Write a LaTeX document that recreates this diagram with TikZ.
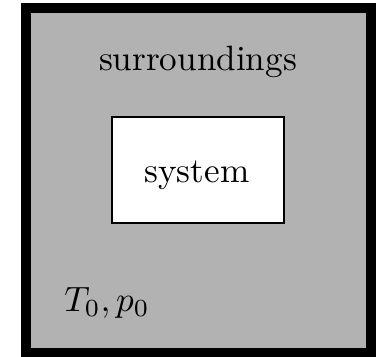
\documentclass[tikz,border=0pt]{standalone}
\usepackage{tikz}
\usetikzlibrary{positioning}
\tikzset{
  % the surroundings: thick black frame, gray fill
  surrbox/.style={draw=black, fill=black!30, line width=2.6pt},
  % the system: thin frame, white fill
  sysbox/.style={draw=black, fill=white, line width=0.6pt},
}
\begin{document}
\begin{tikzpicture}[x=0.01cm, y=-0.01cm]
    \useasboundingbox (0,0) rectangle (378,357);
    % surroundings
    \draw[surrbox] (26,8) rectangle (371,353);
    % system
    \node[sysbox, minimum width=1.72cm, minimum height=1.06cm, inner sep=0pt]
      (system) at (198,170) {};
    % labels
    \node[anchor=base] (surr) at (198,70) {surroundings};
    \node[anchor=base] (sys) at (197,182) {system};
    \node[anchor=base] (state) at (107,311) {$T_0, p_0$};
  \end{tikzpicture}
\end{document}
